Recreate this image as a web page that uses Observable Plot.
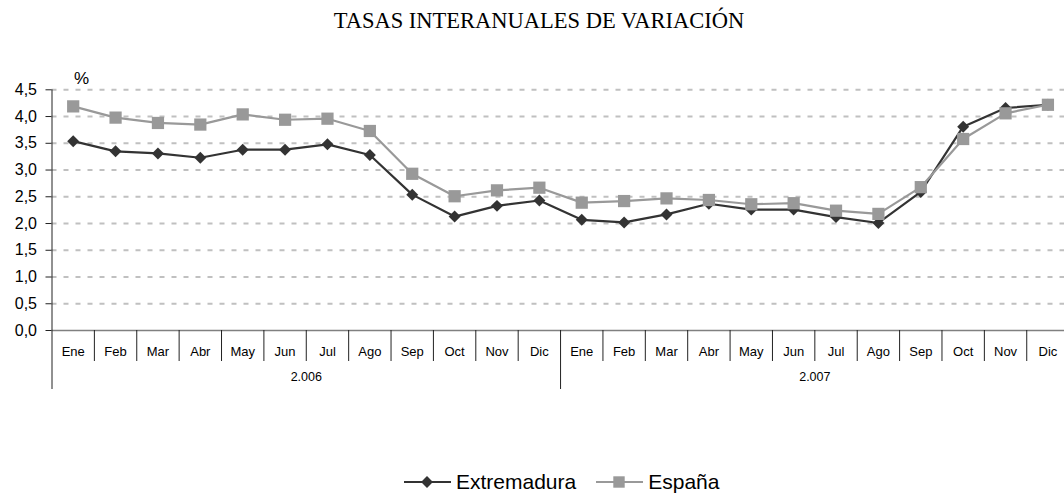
<!DOCTYPE html>
<html>
<head>
<meta charset="utf-8">
<script src="https://cdn.jsdelivr.net/npm/d3@7"></script>
<script src="https://cdn.jsdelivr.net/npm/@observablehq/plot@0.6"></script>
<style>
  body { margin: 0; background: #fff; width: 1064px; height: 493px; overflow: hidden; }
  #title { height: 40px; box-sizing: border-box; padding-top: 8px; padding-left: 14px; text-align: center; white-space: nowrap;
    font-family: "Liberation Serif", "Times New Roman", serif; font-size: 22.5px; line-height: 26px; color: #000; }
  #chart svg { display: block; overflow: visible; }
  #legend { height: 93px; box-sizing: border-box; padding-top: 70px; padding-left: 404px; display: flex; align-items: center;
    font-family: "Liberation Sans", Arial, sans-serif; font-size: 21px; line-height: 22px; color: #000; }
  .item { display: flex; align-items: center; }
  .item svg { display: block; }
</style>
</head>
<body>
<div id="title">TASAS INTERANUALES DE VARIACIÓN</div>
<div id="chart"></div>
<div id="legend"></div>
<script>
const months = ["Ene","Feb","Mar","Abr","May","Jun","Jul","Ago","Sep","Oct","Nov","Dic"];
const years = ["2.006","2.007"];
const extremadura = [3.54,3.35,3.31,3.23,3.38,3.38,3.48,3.28,2.54,2.13,2.33,2.43,
                     2.07,2.02,2.17,2.37,2.26,2.26,2.12,2.01,2.59,3.81,4.16,4.22];
const espana = [4.19,3.98,3.88,3.85,4.04,3.94,3.96,3.73,2.93,2.51,2.62,2.67,
                2.39,2.42,2.47,2.44,2.36,2.38,2.24,2.18,2.68,3.58,4.06,4.22];
const yTicks = [0,0.5,1,1.5,2,2.5,3,3.5,4,4.5];
const seriesNames = ["Extremadura","España"];
const seriesColors = ["#333333","#999999"];

const rows = years.flatMap((y, yi) => months.map((m, mi) => {
  const i = yi * 12 + mi;
  return {i, year: y, month: m, ext: extremadura[i], esp: espana[i]};
}));
const cx = d => d.i + 0.5;
const n = rows.length;
const yearIdx = years.map((y, k) => k * 12 + 6);
const sepIdx = d3.range(1, n).filter(i => i % 12 !== 0);
const longIdx = d3.range(0, n, 12);

const chart = Plot.plot({
  width: 1064,
  height: 360,
  marginLeft: 51.5,
  marginRight: 0,
  marginTop: 49.3,
  marginBottom: 70,
  style: {fontFamily: "'Liberation Sans', Arial, sans-serif", color: "#000", background: "transparent"},
  x: {type: "linear", domain: [0, n], range: [51.5, 51.5 + n * 42.38], axis: null},
  y: {domain: [0, 4.5], axis: null},
  marks: [
    Plot.ruleY(yTicks.filter(d => d > 0), {stroke: "#c0c0c0", strokeWidth: 2, strokeDasharray: "5,7"}),
    Plot.ruleY([0], {stroke: "#808080", strokeWidth: 1.5}),
    Plot.ruleX([0], {stroke: "#222", strokeWidth: 1}),
    Plot.axisY(yTicks, {tickSize: 6, tickPadding: 9, fontSize: 16, stroke: "#222",
      tickFormat: d => d.toFixed(1).replace(".", ","), label: null}),
    Plot.axisX(sepIdx, {tickSize: 31, tickFormat: () => "", stroke: "#222", label: null}),
    Plot.axisX(longIdx, {tickSize: 59, tickFormat: () => "", stroke: "#222", label: null}),
    Plot.axisX(rows.map(cx), {tickSize: 0, tickPadding: 16, fontSize: 13, label: null,
      tickFormat: v => months[Math.floor(v) % 12]}),
    Plot.axisX(yearIdx, {tickSize: 0, tickPadding: 42, fontSize: 12.5, label: null,
      tickFormat: v => years[Math.floor(v / 12)]}),
    Plot.text(["%"], {frameAnchor: "top-left", dx: 29.5, dy: -6, lineAnchor: "bottom", textAnchor: "middle", fontSize: 17}),
    Plot.line(rows, {x: cx, y: "ext", stroke: seriesColors[0], strokeWidth: 2.2}),
    Plot.dot(rows, {x: cx, y: "ext", symbol: "diamond2", r: 5.4, fill: seriesColors[0], stroke: null}),
    Plot.line(rows, {x: cx, y: "esp", stroke: seriesColors[1], strokeWidth: 2.2}),
    Plot.dot(rows, {x: cx, y: "esp", symbol: "square", r: 6.9, fill: seriesColors[1], stroke: null})
  ]
});
document.getElementById("chart").appendChild(chart);

// legend
const legend = document.getElementById("legend");
const symbols = [d3.symbolDiamond2, d3.symbolSquare];
const sizes = [90, 130];
seriesNames.forEach((name, k) => {
  const item = document.createElement("div");
  item.className = "item";
  item.style.marginRight = k === 0 ? "20px" : "0";
  const sv = d3.create("svg").attr("width", 47).attr("height", 22);
  sv.append("line").attr("x1", 0).attr("x2", 47).attr("y1", 11).attr("y2", 11)
    .attr("stroke", seriesColors[k]).attr("stroke-width", 2);
  sv.append("path").attr("transform", "translate(23,11)")
    .attr("d", d3.symbol(symbols[k], sizes[k])()).attr("fill", seriesColors[k]);
  item.appendChild(sv.node());
  const t = document.createElement("span");
  t.textContent = name;
  t.style.marginLeft = "5px";
  item.appendChild(t);
  legend.appendChild(item);
});
</script>
</body>
</html>
